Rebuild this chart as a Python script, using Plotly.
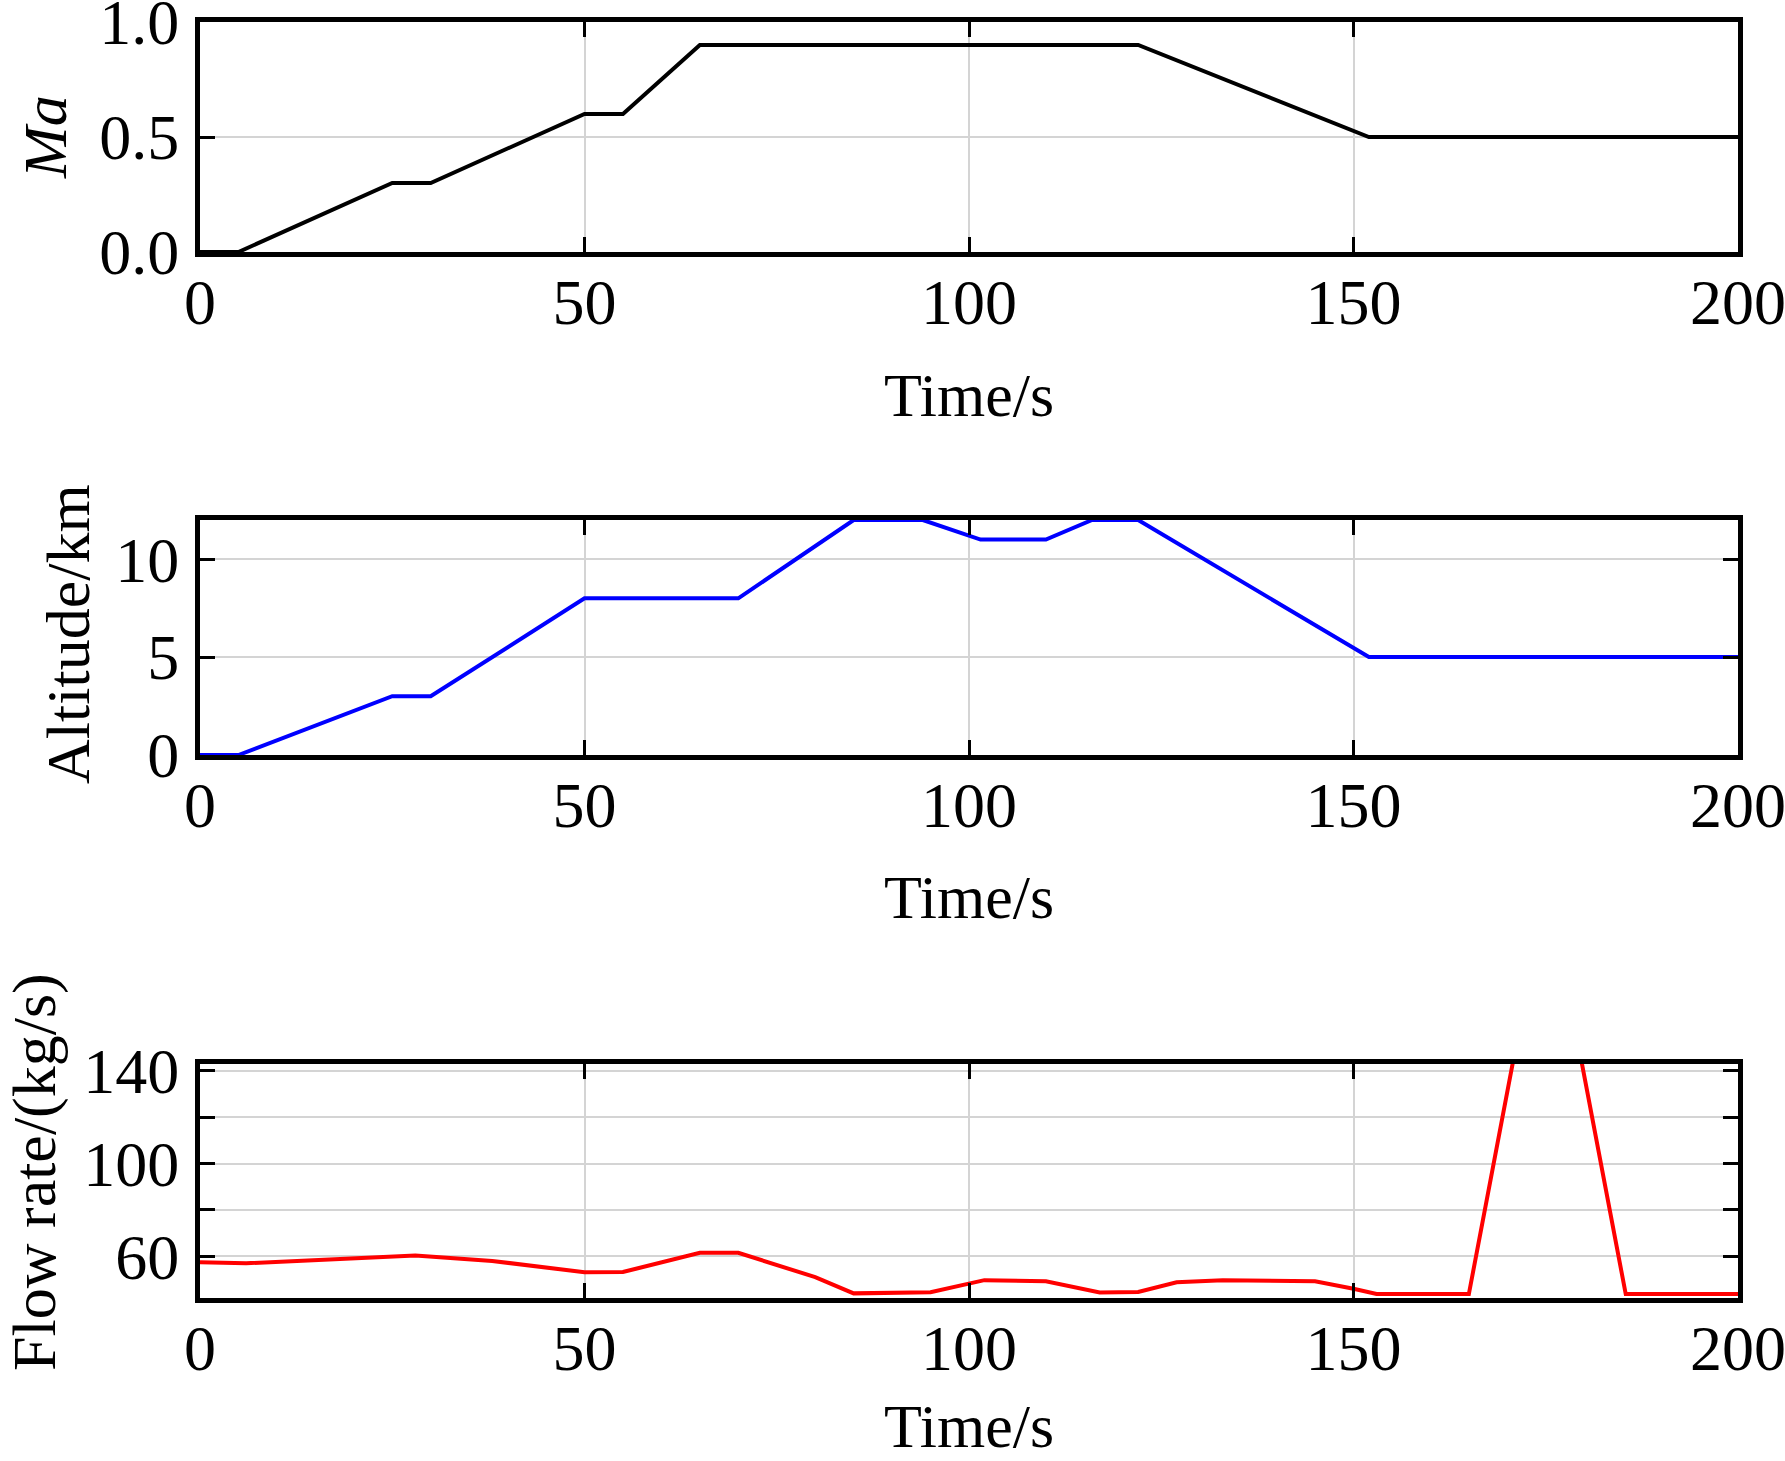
import plotly.graph_objects as go
from plotly.subplots import make_subplots

# ---- data ----
time_ma = [0, 5, 25, 30, 50, 55, 65, 122, 152, 200]
mach = [0, 0, 0.3, 0.3, 0.6, 0.6, 0.9, 0.9, 0.5, 0.5]

time_alt = [0, 5, 25, 30, 50, 70, 85, 94, 101.5, 110, 116, 122, 152, 200]
altitude = [0, 0, 3, 3, 8, 8, 12, 12, 11, 11, 12, 12, 5, 5]

time_flow = [0, 6, 28, 38, 50, 55, 65, 70, 80, 85, 95, 102, 110, 117, 122,
             127, 133, 145, 150, 153, 165, 170.8, 179.6, 185.4, 200]
flow = [57.4, 57, 60.3, 58, 53.1, 53.2, 61.5, 61.5, 51, 44, 44.5, 49.7, 49.2,
        44.4, 44.6, 48.8, 49.7, 49.2, 46, 43.7, 43.7, 145, 145, 43.7, 43.7]

x_ticks = [0, 50, 100, 150, 200]
ma_ticks = [0, 0.5, 1.0]
ma_ticktext = ["0.0", "0.5", "1.0"]
alt_ticks = [0, 5, 10]
flow_ticks = [60, 80, 100, 120, 140]
flow_ticktext = ["60", "", "100", "", "140"]

x_title = "Time/s"
y_titles = ["<i>Ma</i>", "Altitude/km", "Flow rate/(kg/s)"]

FONT = "Liberation Serif"
W, H = 1785, 1461

fig = make_subplots(rows=3, cols=1)

fig.add_trace(go.Scatter(x=time_ma, y=mach, mode="lines",
                         line=dict(color="black", width=4), showlegend=False), row=1, col=1)
fig.add_trace(go.Scatter(x=time_alt, y=altitude, mode="lines",
                         line=dict(color="#0000ff", width=4), showlegend=False), row=2, col=1)
fig.add_trace(go.Scatter(x=time_flow, y=flow, mode="lines",
                         line=dict(color="#ff0000", width=4), showlegend=False), row=3, col=1)

x_dom = [200 / W, 1738 / W]
y_doms = [
    [1 - 252 / H, 1 - 22 / H],
    [1 - 755 / H, 1 - 520 / H],
    [1 - 1298 / H, 1 - 1064 / H],
]

common = dict(
    showline=True, linecolor="black", linewidth=5, mirror="allticks",
    ticks="inside", ticklen=15, tickwidth=3, tickcolor="black",
    showgrid=True, gridcolor="#d4d4d4", gridwidth=2, zeroline=False,
    tickfont=dict(family=FONT, size=64, color="black"),
    automargin=False, ticklabeloverflow="allow",
)
title_font = dict(family=FONT, size=62, color="black")

for i in range(3):
    xa = "xaxis" if i == 0 else f"xaxis{i+1}"
    ya = "yaxis" if i == 0 else f"yaxis{i+1}"
    fig.layout[xa].update(domain=x_dom, range=[0, 200], tickvals=x_ticks,
                          ticklabelstandoff=-10, **common)
    fig.layout[ya].update(domain=y_doms[i], ticklabelstandoff=3, **common)

fig.layout.yaxis.update(range=[0, 1.0], tickvals=ma_ticks, ticktext=ma_ticktext)
fig.layout.yaxis2.update(range=[0, 12], tickvals=alt_ticks)
fig.layout.yaxis3.update(range=[42, 143], tickvals=flow_ticks, ticktext=flow_ticktext)

# axis titles placed as annotations (pixel-accurate placement)
x_title_y = [395, 897, 1426]
y_title_x = [45, 68, 34]
y_title_y = [137, 634, 1172]
for i in range(3):
    fig.add_annotation(text=x_title, xref="paper", yref="paper",
                       x=969 / W, y=1 - x_title_y[i] / H,
                       xanchor="center", yanchor="middle", showarrow=False,
                       font=title_font)
    fig.add_annotation(text=y_titles[i], xref="paper", yref="paper",
                       x=y_title_x[i] / W, y=1 - y_title_y[i] / H,
                       xanchor="center", yanchor="middle", showarrow=False,
                       textangle=-90, font=title_font)

fig.update_layout(
    width=W, height=H,
    margin=dict(l=0, r=0, t=0, b=0),
    paper_bgcolor="white", plot_bgcolor="white",
    font=dict(family=FONT, color="black"),
)

fig.write_html("out.html")
